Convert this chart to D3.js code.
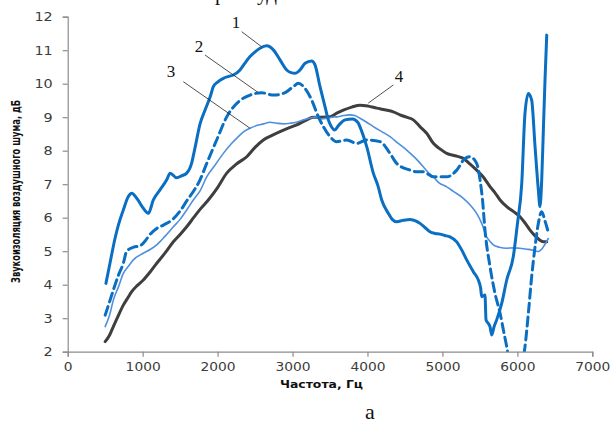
<!DOCTYPE html>
<html>
<head>
<meta charset="utf-8">
<script src="https://cdn.jsdelivr.net/npm/d3@7/dist/d3.min.js"></script>
<style>
  html, body { margin: 0; padding: 0; background: #fff; }
  svg { display: block; }
</style>
</head>
<body>
<svg id="chart" width="611" height="423"></svg>
<script>
// Frequency ticks and level ticks
const xTicks = [0, 1000, 2000, 3000, 4000, 5000, 6000, 7000];
const yTicks = [2, 3, 4, 5, 6, 7, 8, 9, 10, 11, 12];

// Curve 1 (solid)
const f1 = [510, 564, 631, 676, 742, 809, 854, 921, 1009, 1076, 1143, 1232, 1321, 1367, 1455, 1520, 1588, 1650, 1700, 1766, 1832, 1900, 1943, 2000, 2077, 2150, 2210, 2299, 2360, 2433, 2500, 2566, 2655, 2744, 2833, 2922, 2980, 3033, 3100, 3167, 3256, 3300, 3367, 3434, 3478, 3523, 3560, 3620, 3700, 3800, 3870, 3920, 3990, 4078, 4140, 4190, 4278, 4330, 4390, 4470, 4568, 4650, 4701, 4770, 4834, 4900, 4968, 5030, 5101, 5191, 5257, 5324, 5412, 5479, 5510, 5524, 5568, 5582, 5610, 5635, 5658, 5690, 5724, 5791, 5858, 5946, 6000, 6058, 6102, 6147, 6191, 6236, 6280, 6302, 6325, 6347, 6369, 6392];
const v1 = [4.04, 4.64, 5.38, 5.78, 6.23, 6.63, 6.73, 6.58, 6.28, 6.13, 6.53, 6.83, 7.13, 7.33, 7.19, 7.25, 7.33, 7.6, 8.1, 8.8, 9.21, 9.6, 9.91, 10.05, 10.16, 10.22, 10.26, 10.41, 10.6, 10.81, 10.95, 11.06, 11.13, 11.01, 10.71, 10.41, 10.33, 10.31, 10.41, 10.61, 10.68, 10.56, 9.91, 9.31, 8.92, 8.7, 8.62, 8.77, 8.92, 8.95, 8.85, 8.6, 8.12, 7.33, 6.95, 6.53, 6.13, 5.95, 5.88, 5.92, 5.95, 5.9, 5.83, 5.7, 5.58, 5.53, 5.51, 5.47, 5.43, 5.28, 5.04, 4.74, 4.39, 4.14, 3.9, 3.64, 3.69, 2.95, 2.85, 2.75, 2.5, 2.75, 2.95, 3.44, 4.14, 4.84, 5.8, 7.0, 9.12, 9.71, 9.51, 8.12, 6.83, 6.33, 7.13, 8.62, 10.11, 11.45];

// Curve 2 (dashed)
const f2 = [500, 560, 609, 680, 742, 787, 880, 965, 1031, 1098, 1188, 1276, 1400, 1500, 1588, 1676, 1766, 1855, 1988, 2122, 2255, 2433, 2589, 2744, 2877, 3010, 3077, 3167, 3256, 3345, 3411, 3500, 3590, 3723, 3857, 3990, 4167, 4301, 4390, 4568, 4657, 4745, 4879, 5057, 5191, 5302, 5368, 5457, 5502, 5535, 5568, 5635, 5702, 5769, 5822, 5858, 5900, 5980, 6060, 6102, 6147, 6191, 6236, 6280, 6325, 6369, 6392, 6420];
const v2 = [3.09, 3.5, 3.84, 4.3, 4.64, 5.0, 5.12, 5.16, 5.3, 5.5, 5.68, 5.78, 5.95, 6.2, 6.5, 6.78, 7.13, 7.62, 8.32, 9.01, 9.41, 9.66, 9.73, 9.66, 9.71, 9.91, 10.01, 9.86, 9.51, 9.01, 8.72, 8.42, 8.27, 8.32, 8.22, 8.32, 8.27, 7.92, 7.62, 7.42, 7.37, 7.37, 7.22, 7.22, 7.42, 7.77, 7.82, 7.62, 7.13, 6.53, 5.63, 4.54, 3.74, 3.15, 2.55, 2.15, 1.6, 1.2, 1.6, 2.15, 3.15, 4.24, 5.13, 5.83, 6.18, 5.9, 5.73, 5.5];

// Curve 3 (thin)
const f3 = [500, 560, 609, 680, 742, 810, 876, 1009, 1100, 1188, 1300, 1410, 1500, 1588, 1676, 1766, 1855, 1960, 2077, 2180, 2277, 2350, 2433, 2520, 2611, 2700, 2789, 2880, 2966, 3050, 3144, 3230, 3323, 3390, 3456, 3520, 3590, 3680, 3767, 3830, 3900, 3990, 4078, 4190, 4301, 4410, 4523, 4630, 4745, 4810, 4879, 4950, 5057, 5150, 5279, 5370, 5457, 5530, 5591, 5640, 5679, 5760, 5858, 5950, 6035, 6120, 6191, 6250, 6280, 6320, 6347, 6380, 6413];
const v3 = [2.75, 3.1, 3.54, 3.95, 4.34, 4.55, 4.74, 4.94, 5.05, 5.19, 5.45, 5.73, 5.95, 6.23, 6.53, 6.8, 7.22, 7.55, 7.92, 8.2, 8.42, 8.57, 8.67, 8.75, 8.8, 8.85, 8.82, 8.8, 8.82, 8.85, 8.92, 8.97, 9.01, 8.95, 8.97, 9.0, 9.01, 9.05, 9.07, 9.05, 8.97, 8.85, 8.72, 8.57, 8.42, 8.22, 8.02, 7.8, 7.52, 7.35, 7.22, 7.05, 6.92, 6.78, 6.58, 6.38, 6.13, 5.8, 5.43, 5.28, 5.19, 5.12, 5.09, 5.1, 5.09, 5.06, 5.04, 5.0, 4.99, 5.05, 5.13, 5.25, 5.38];

// Curve 4 (dark)
const f4 = [500, 560, 609, 680, 742, 800, 854, 930, 1009, 1100, 1188, 1300, 1410, 1500, 1588, 1680, 1766, 1876, 2000, 2122, 2250, 2389, 2500, 2611, 2720, 2833, 2950, 3056, 3170, 3278, 3390, 3500, 3590, 3678, 3790, 3900, 4010, 4123, 4230, 4345, 4434, 4520, 4612, 4700, 4790, 4879, 4970, 5057, 5170, 5279, 5370, 5457, 5550, 5635, 5700, 5769, 5858, 5950, 6035, 6100, 6169, 6240, 6302, 6350, 6392];
const v4 = [2.3, 2.5, 2.75, 3.1, 3.39, 3.6, 3.79, 3.98, 4.14, 4.38, 4.64, 4.95, 5.28, 5.5, 5.73, 6.0, 6.25, 6.53, 6.9, 7.33, 7.6, 7.82, 8.1, 8.32, 8.45, 8.57, 8.68, 8.77, 8.9, 9.0, 9.0, 9.01, 9.12, 9.21, 9.3, 9.36, 9.33, 9.27, 9.22, 9.16, 9.07, 9.0, 8.92, 8.72, 8.52, 8.22, 8.05, 7.92, 7.85, 7.77, 7.6, 7.42, 7.2, 6.93, 6.75, 6.53, 6.33, 6.18, 6.03, 5.85, 5.63, 5.45, 5.33, 5.28, 5.28];

// Curve numbers and the point of each curve that its leader line touches
const curveLabels = ["1", "2", "3", "4"];
const leaderTargets = [[2590, 11.1], [2540, 9.74], [2433, 8.67], [4010, 9.42]];

const axisTitleY = "Звукоизоляция воздушного шума, дБ";
const axisTitleX = "Частота, Гц";
const panelLetter = "а";

const svg = d3.select("#chart");
const plot = { left: 67.7, right: 592.3, top: 16.7, bottom: 351.7 };

const x = d3.scaleLinear().domain([0, 7000]).range([plot.left, plot.right]);
const y = d3.scaleLinear().domain([2, 12]).range([plot.bottom, plot.top]);

// Line of text running off the top edge (only its descenders remain in view)
const topText = svg.append("g")
  .attr("font-family", "'Liberation Serif', 'Times New Roman', serif")
  .attr("font-size", 21).attr("fill", "#111");
topText.append("text").attr("x", 215).attr("y", -0.5).text("р");
topText.append("text").attr("x", 257).attr("y", -0.5).text("уд");

svg.append("defs").append("clipPath").attr("id", "plotClip")
  .append("rect")
  .attr("x", plot.left).attr("y", plot.top - 10)
  .attr("width", plot.right - plot.left + 10)
  .attr("height", plot.bottom - plot.top + 10);

// Axes
const xAxis = svg.append("g")
  .attr("transform", `translate(0,${plot.bottom})`)
  .call(d3.axisBottom(x).tickValues(xTicks).tickSize(5).tickPadding(6).tickFormat(d3.format("d")));
const yAxis = svg.append("g")
  .attr("transform", `translate(${plot.left},0)`)
  .call(d3.axisLeft(y).tickValues(yTicks).tickSize(5).tickPadding(9).tickFormat(d3.format("d")));

[xAxis, yAxis].forEach(g => {
  g.select(".domain").attr("stroke", "#8c8c8c").attr("stroke-width", 1.2);
  g.selectAll(".tick line").attr("stroke", "#8c8c8c").attr("stroke-width", 1.2);
  g.selectAll(".tick text")
    .attr("font-family", "'DejaVu Sans', Verdana, sans-serif")
    .attr("font-size", 11.5)
    .attr("fill", "#3b3b3b");
});
xAxis.selectAll(".tick text").attr("transform", "scale(1.2,1)");
yAxis.selectAll(".tick text").attr("x", -12).attr("transform", "scale(1.25,1)").attr("dy", "0.36em");

// Curves
const line = d3.line()
  .x(d => x(d[0]))
  .y(d => y(d[1]))
  .curve(d3.curveMonotoneX);

const series = [
  { f: f1, v: v1, color: "#0a6fc2", width: 3, dash: null },
  { f: f2, v: v2, color: "#0a6fc2", width: 3, dash: "9,5" },
  { f: f3, v: v3, color: "#4f8fdc", width: 1.6, dash: null },
  { f: f4, v: v4, color: "#3f3f3f", width: 3, dash: null }
];

const lines = svg.append("g").attr("clip-path", "url(#plotClip)");
series.slice().reverse().forEach(s => {
  lines.append("path")
    .datum(s.f.map((f, i) => [f, s.v[i]]))
    .attr("fill", "none")
    .attr("stroke", s.color)
    .attr("stroke-width", s.width)
    .attr("stroke-linejoin", "round")
    .attr("stroke-linecap", "round")
    .attr("stroke-dasharray", s.dash)
    .attr("d", line);
});

// Curve numbers with leader lines
const labelPos = [[236, 28], [199, 52], [171, 77], [399, 82]];
const leaderStart = [[241.7, 31.7], [205, 55], [183.3, 81.7], [393.3, 85]];
const ann = svg.append("g");
curveLabels.forEach((t, i) => {
  ann.append("line")
    .attr("x1", leaderStart[i][0]).attr("y1", leaderStart[i][1])
    .attr("x2", x(leaderTargets[i][0])).attr("y2", y(leaderTargets[i][1]))
    .attr("stroke", "#222").attr("stroke-width", 0.8);
  ann.append("text")
    .attr("x", labelPos[i][0]).attr("y", labelPos[i][1])
    .attr("text-anchor", "middle")
    .attr("font-family", "'Liberation Serif', 'Times New Roman', serif")
    .attr("font-size", 17)
    .attr("fill", "#111")
    .text(t);
});

// Axis titles
svg.append("text")
  .attr("transform", "translate(20,191.5) rotate(-90)")
  .attr("text-anchor", "middle")
  .attr("font-family", "'Liberation Sans Narrow', 'DejaVu Sans Condensed', Arial, sans-serif")
  .attr("font-weight", "bold")
  .attr("font-size", 11.5)
  .attr("textLength", 183)
  .attr("lengthAdjust", "spacingAndGlyphs")
  .attr("fill", "#111")
  .text(axisTitleY);

svg.append("text")
  .attr("x", 321.5).attr("y", 388)
  .attr("text-anchor", "middle")
  .attr("font-family", "'DejaVu Sans', Verdana, sans-serif")
  .attr("font-weight", "bold")
  .attr("font-size", 10.5)
  .attr("textLength", 83)
  .attr("lengthAdjust", "spacingAndGlyphs")
  .attr("fill", "#111")
  .text(axisTitleX);

svg.append("text")
  .attr("x", 370).attr("y", 419)
  .attr("text-anchor", "middle")
  .attr("font-family", "'Liberation Serif', 'Times New Roman', serif")
  .attr("font-size", 22)
  .attr("fill", "#111")
  .text(panelLetter);
</script>
</body>
</html>
